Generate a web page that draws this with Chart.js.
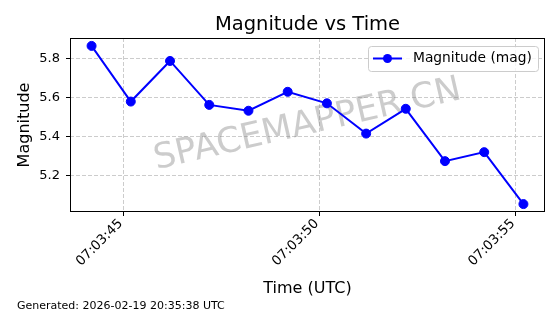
<!DOCTYPE html>
<html>
<head>
<meta charset="utf-8">
<script src="https://cdn.jsdelivr.net/npm/chart.js@4"></script>
<style>
  html, body { margin: 0; padding: 0; background: #fff; }
</style>
</head>
<body>
<canvas id="graph" width="560" height="314"></canvas>
<script>
// seconds after 07:03:00 UTC
const times = [44.18, 45.18, 46.18, 47.18, 48.18, 49.18, 50.18, 51.18, 52.19, 53.19, 54.19, 55.19];
const magnitudes = [5.863, 5.578, 5.786, 5.561, 5.531, 5.628, 5.569, 5.414, 5.541, 5.273, 5.319, 5.053];
const xTicks = [45, 50, 55];
const yTicks = [5.2, 5.4, 5.6, 5.8];

const FONT = 'DejaVu Sans';

function fmtTime(s) {
    return '07:03:' + String(Math.floor(s)).padStart(2, '0');
}

const extras = {
    id: 'extras',
    beforeDatasetsDraw(chart) {
        const ctx = chart.ctx;
        const a = chart.chartArea;
        // watermark
        ctx.save();
        ctx.translate((a.left + a.right) / 2, (a.top + a.bottom) / 2);
        ctx.rotate(-13 * Math.PI / 180);
        ctx.font = '35px "' + FONT + '"';
        ctx.fillStyle = 'rgba(128,128,128,0.4)';
        ctx.textAlign = 'center';
        ctx.textBaseline = 'middle';
        ctx.fillText('SPACEMAPPER.CN', 0, 0);
        ctx.restore();
    },
    afterDraw(chart) {
        const ctx = chart.ctx;
        const a = chart.chartArea;
        ctx.save();
        // frame
        ctx.strokeStyle = '#000';
        ctx.lineWidth = 1;
        ctx.strokeRect(a.left + 0.5, a.top + 0.5, a.right - a.left - 1, a.bottom - a.top - 1);

        // title
        ctx.fillStyle = '#000';
        ctx.font = '19.5px "' + FONT + '"';
        ctx.textAlign = 'center';
        ctx.textBaseline = 'alphabetic';
        ctx.fillText('Magnitude vs Time', (a.left + a.right) / 2, 30);

        // legend
        const lx = 368, ly = 46, lw = 170, lh = 25;
        ctx.fillStyle = 'rgba(255,255,255,0.8)';
        ctx.strokeStyle = '#cccccc';
        ctx.beginPath();
        ctx.roundRect(lx + 0.5, ly + 0.5, lw, lh, 3);
        ctx.fill();
        ctx.stroke();
        const cy = ly + lh / 2;
        ctx.strokeStyle = '#0000ff';
        ctx.lineWidth = 2;
        ctx.beginPath();
        ctx.moveTo(373, cy);
        ctx.lineTo(402, cy);
        ctx.stroke();
        ctx.fillStyle = '#0000ff';
        ctx.beginPath();
        ctx.arc(387.5, cy, 4.5, 0, Math.PI * 2);
        ctx.fill();
        ctx.fillStyle = '#000';
        ctx.font = '13.8px "' + FONT + '"';
        ctx.textAlign = 'left';
        ctx.textBaseline = 'middle';
        ctx.fillText('Magnitude (mag)', 413, cy);

        // footer
        ctx.font = '11px "' + FONT + '"';
        ctx.textBaseline = 'alphabetic';
        ctx.fillText('Generated: 2026-02-19 20:35:38 UTC', 17, 309);
        ctx.restore();
    }
};

let context = document.querySelector('#graph').getContext('2d');

new Chart(context, {
    type: 'line',
    data: {
        datasets: [{
            label: 'Magnitude (mag)',
            data: times.map((t, i) => ({x: t, y: magnitudes[i]})),
            borderColor: '#0000ff',
            backgroundColor: '#0000ff',
            borderWidth: 2,
            pointRadius: 4.5,
            pointBorderWidth: 1,
            tension: 0
        }]
    },
    options: {
        responsive: false,
        animation: false,
        layout: { padding: { left: 11, right: 15, top: 38, bottom: 16 } },
        plugins: {
            legend: { display: false },
            title: { display: false },
            tooltip: { enabled: false }
        },
        scales: {
            x: {
                type: 'linear',
                min: 43.63,
                max: 55.74,
                afterBuildTicks: s => { s.ticks = xTicks.map(v => ({value: v})); },
                afterFit: s => { s.height = 86; },
                ticks: {
                    autoSkip: false,
                    minRotation: 45,
                    maxRotation: 45,
                    padding: 0,
                    labelOffset: -3,
                    color: '#000',
                    font: { family: FONT, size: 13.3 },
                    callback: v => fmtTime(v)
                },
                grid: { color: '#cccccc', tickColor: '#000', tickLength: 4 },
                border: { display: false, dash: [4, 2] },
                title: {
                    display: true,
                    text: 'Time (UTC)',
                    color: '#000',
                    padding: { top: 0, bottom: 0 },
                    font: { family: FONT, size: 16 }
                }
            },
            y: {
                min: 5.0125,
                max: 5.9035,
                afterBuildTicks: s => { s.ticks = yTicks.map(v => ({value: v})); },
                afterFit: s => { s.width = 59; },
                ticks: {
                    padding: 6,
                    color: '#000',
                    font: { family: FONT, size: 13 },
                    callback: v => v.toFixed(1)
                },
                grid: { color: '#cccccc', tickColor: '#000', tickLength: 4 },
                border: { display: false, dash: [4, 2] },
                title: {
                    display: true,
                    text: 'Magnitude',
                    color: '#000',
                    padding: { top: 4, bottom: 0 },
                    font: { family: FONT, size: 16 }
                }
            }
        }
    },
    plugins: [extras]
});
</script>
</body>
</html>
